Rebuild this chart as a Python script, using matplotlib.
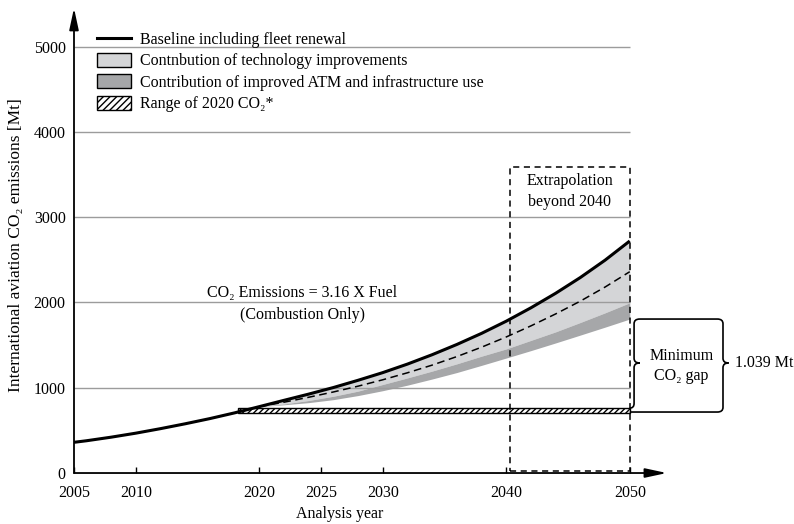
"""
International aviation CO2 emissions outlook with technology / ATM contributions.
Saves out.png.
"""

import matplotlib
matplotlib.use("Agg")
import matplotlib.pyplot as plt
from matplotlib.lines import Line2D
from matplotlib.patches import Patch, PathPatch, Rectangle
from matplotlib.path import Path

plt.rcParams["font.family"] = ["Liberation Serif", "DejaVu Serif"]
plt.rcParams["hatch.linewidth"] = 1.0

# --- data ------------------------------------------------------------------
BASE_YEARS = [2005, 2006, 2008, 2010, 2012, 2014, 2016, 2018, 2020, 2022,
              2024, 2026, 2028, 2030, 2032, 2034, 2036, 2038, 2040, 2042,
              2044, 2046, 2048, 2050]
BASELINE = [360, 378, 420, 467, 520, 577, 638, 705, 778, 852,
            925, 1002, 1087, 1177, 1277, 1387, 1507, 1637, 1780, 1937,
            2107, 2292, 2495, 2720]

BAND_YEARS = [2020, 2022, 2024, 2026, 2028, 2030, 2032, 2034, 2036, 2038,
              2040, 2042, 2044, 2046, 2048, 2050]
BAND_TOP = [778, 852, 925, 1002, 1087, 1177, 1277, 1387, 1507, 1637,
            1780, 1937, 2107, 2292, 2495, 2720]
DASHED = [778, 830, 888, 950, 1018, 1093, 1175, 1265, 1365, 1475,
          1595, 1725, 1865, 2015, 2180, 2360]
TECH_LOW = [778, 810, 850, 900, 960, 1038, 1115, 1195, 1280, 1370,
            1455, 1555, 1655, 1765, 1878, 1996]
ATM_LOW = [778, 800, 825, 860, 908, 965, 1030, 1102, 1178, 1262,
           1348, 1435, 1525, 1617, 1710, 1805]

RANGE_2020 = (2018.3, 2050, 705, 761)     # x0, x1, low, high
EXTRAP_BOX = (2040.3, 2050, 25, 3585)     # x0, x1, y0, y1
GAP_LEVEL = 1805                           # top of minimum gap brace
GAP_MID = 1290

X_TICKS = [2005, 2010, 2020, 2025, 2030, 2040, 2050]
Y_TICKS = [0, 1000, 2000, 3000, 4000, 5000]

LIGHT = "#d4d5d7"
DARK = "#a6a7a9"
GRID = "#9c9c9c"
FS = 11.5


def brace_path():
    """One continuous path: inner brace + outer brace with closed top."""
    xi, xo = 2050.35, 2057.55
    dx, dy = 0.45, 55
    lo_in, lo_out = RANGE_2020[3], RANGE_2020[2] + 10
    top, mid = GAP_LEVEL, GAP_MID
    verts = [
        (2050.0, lo_in),
        (xi, lo_in), (xi, lo_in + dy),
        (xi, mid - dy),
        (xi, mid), (xi + dx, mid),
        (xi, mid), (xi, mid + dy),
        (xi, top - dy),
        (xi, top), (xi + dx, top),
        (xo - dx, top),
        (xo, top), (xo, top - dy),
        (xo, mid + dy),
        (xo, mid), (xo + dx, mid),
        (xo, mid), (xo, mid - dy),
        (xo, lo_out + dy),
        (xo, lo_out), (xo - dx, lo_out),
        (2050.0, lo_out),
    ]
    codes = [Path.MOVETO,
             Path.CURVE3, Path.CURVE3,
             Path.LINETO,
             Path.CURVE3, Path.CURVE3,
             Path.CURVE3, Path.CURVE3,
             Path.LINETO,
             Path.CURVE3, Path.CURVE3,
             Path.LINETO,
             Path.CURVE3, Path.CURVE3,
             Path.LINETO,
             Path.CURVE3, Path.CURVE3,
             Path.CURVE3, Path.CURVE3,
             Path.LINETO,
             Path.CURVE3, Path.CURVE3,
             Path.LINETO]
    return Path(verts, codes)


def make_plot():
    fig = plt.figure(figsize=(7.94, 5.24), dpi=100)
    ax = fig.add_axes([0.0932, 0.0973, 0.7466, 0.8872])
    ax.set_xlim(2005, 2053)
    ax.set_ylim(0, 5450)

    # gridlines only up to 2050
    ax.hlines(Y_TICKS[1:], 2005, 2050, color=GRID, lw=1.0, zorder=2)

    # bands
    ax.fill_between(BAND_YEARS, BAND_TOP, TECH_LOW, color=LIGHT, lw=0, zorder=1)
    ax.fill_between(BAND_YEARS, TECH_LOW, ATM_LOW, color=DARK, lw=0, zorder=1)

    # 2020 CO2 range
    x0, x1, lo, hi = RANGE_2020
    ax.add_patch(Rectangle((x0, lo), x1 - x0, hi - lo, facecolor="white",
                           edgecolor="black", hatch="//////", lw=1.0, zorder=3))

    ax.plot(BAND_YEARS, DASHED, color="black", lw=1.1, ls=(0, (5, 3)), zorder=4)
    ax.plot(BASE_YEARS, BASELINE, color="black", lw=2.2, zorder=5,
            solid_capstyle="butt", solid_joinstyle="round")

    # extrapolation box
    bx0, bx1, by0, by1 = EXTRAP_BOX
    ax.add_patch(Rectangle((bx0, by0), bx1 - bx0, by1 - by0, fill=False,
                           edgecolor="black", lw=1.1, ls=(0, (4, 3)), zorder=6))
    ax.text((bx0 + bx1) / 2, 3300, "Extrapolation\nbeyond 2040", ha="center",
            va="center", fontsize=FS, linespacing=1.4)

    ax.text(2023.5, 2110, "CO\u2082 Emissions = 3.16 X Fuel", ha="center",
            va="center", fontsize=FS)
    ax.text(2023.5, 1852, "(Combustion Only)", ha="center", va="center",
            fontsize=FS)

    # minimum gap brace
    ax.add_patch(PathPatch(brace_path(), facecolor="none", edgecolor="black",
                           lw=1.2, clip_on=False, zorder=6))
    ax.text(2054.2, 1255, "Minimum\nCO\u2082 gap", ha="center", va="center",
            fontsize=FS, linespacing=1.35, clip_on=False)
    ax.text(2058.5, GAP_MID, "1.039 Mt", ha="left", va="center",
            fontsize=FS, clip_on=False)

    # axes with arrows
    for s in ax.spines.values():
        s.set_visible(False)
    arrow = dict(arrowstyle="-|>,head_length=1.3,head_width=0.28",
                 color="black", lw=1.3, shrinkA=0, shrinkB=0)
    ax.annotate("", xy=(0, 1), xytext=(0, 0), xycoords="axes fraction",
                arrowprops=arrow, annotation_clip=False)
    ax.annotate("", xy=(1, 0), xytext=(0, 0), xycoords="axes fraction",
                arrowprops=arrow, annotation_clip=False)

    ax.set_xticks(X_TICKS)
    ax.set_xticklabels([str(y) for y in X_TICKS], fontsize=FS)
    ax.set_yticks(Y_TICKS)
    ax.set_yticklabels([str(v) for v in Y_TICKS], fontsize=FS)
    ax.tick_params(axis="x", direction="in", length=4, width=1.0, pad=8.5)
    ax.tick_params(axis="y", length=0, pad=6)

    ax.set_xlabel("Analysis year", fontsize=FS)
    ax.xaxis.set_label_coords(0.449, -0.071)
    ax.set_ylabel("International aviation CO\u2082 emissions [Mt]", fontsize=12.5)
    ax.yaxis.set_label_coords(-0.084, 0.49)

    handles = [
        Line2D([], [], color="black", lw=2.2),
        Patch(facecolor=LIGHT, edgecolor="black", lw=1.0),
        Patch(facecolor=DARK, edgecolor="black", lw=1.0),
        Patch(facecolor="white", edgecolor="black", hatch="/////", lw=1.0),
    ]
    labels = [
        "Baseline including fleet renewal",
        "Contnbution of technology improvements",
        "Contribution of improved ATM and infrastructure use",
        "Range of 2020 CO\u2082*",
    ]
    ax.legend(handles, labels, loc="upper left", bbox_to_anchor=(0.039, 0.95),
              frameon=False, fontsize=FS, borderpad=0, borderaxespad=0,
              handlelength=2.1, handleheight=0.95, handletextpad=0.6,
              labelspacing=0.32)

    fig.savefig("out.png", dpi=100)


if __name__ == "__main__":
    make_plot()
